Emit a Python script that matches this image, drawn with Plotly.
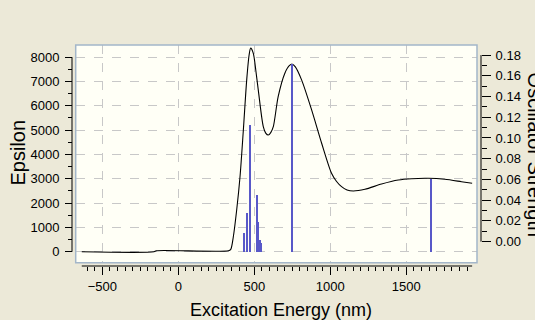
import plotly.graph_objects as go
import numpy as np

# ---- data ----
curve_nm = [-635, -160, -145, 330, 345, 362, 384, 406, 428, 450, 466, 476, 493, 510, 526,
            559, 575, 592, 608, 625, 657, 701, 730, 750, 770, 811, 877, 943, 1008, 1040,
            1074, 1110, 1151, 1228, 1337, 1447, 1535, 1644, 1753, 1863, 1933]
curve_eps = [0, 0, 40, 40, 100, 617, 1716, 3086, 5008, 7066, 8100, 8370, 8165, 7450, 6654,
             5144, 4880, 4798, 4900, 5144, 6379, 7342, 7650, 7712, 7600, 7066, 5831, 4461, 3226, 2900,
             2675, 2540, 2498, 2568, 2786, 2951, 3004, 3020, 2979, 2881, 2815]

bar_nm = [434, 450, 471, 517, 526, 535, 544, 750, 1660]
bar_f = [0.0183, 0.0370, 0.1222, 0.0547, 0.0289, 0.0113, 0.0084, 0.1807, 0.0701]

x_major = [-500, 0, 500, 1000, 1500]
x_minor = [v for v in range(-600, 1901, 50) if v % 500 != 0]
y_major = list(range(0, 8001, 1000))
y_minor = list(range(500, 8000, 1000))
y2_major = [round(0.02 * i, 2) for i in range(10)]
y2_minor = [round(0.01 + 0.02 * i, 2) for i in range(9)]

x_range = [-675, 1965]
y_range = [-450, 8500]
y2_range = [-0.0203, 0.1897]

# ---- layout geometry ----
W, H = 535, 320
L, R, T, B = 72, 54, 45, 54
w, h = W - L - R, H - T - B

def px_x(p):
    return (p - L) / w

def px_y(p):
    return (H - B - p) / h

# bars rise from the left-axis zero level, expressed on the right axis
base_y2 = y2_range[0] + (0 - y_range[0]) / (y_range[1] - y_range[0]) * (y2_range[1] - y2_range[0])

tick_font = dict(family="Liberation Sans Narrow, Arial Narrow, Liberation Sans", size=13, color="black")
title_font = dict(family="Liberation Sans, Arial", color="black")

fig = go.Figure()
fig.add_trace(go.Scatter(x=curve_nm, y=curve_eps, mode="lines",
                         line=dict(color="black", width=1.1, shape="spline", smoothing=0.8),
                         hoverinfo="skip", showlegend=False))
fig.add_trace(go.Bar(x=bar_nm, y=bar_f, base=base_y2, yaxis="y2", width=9,
                     marker=dict(color="#5858c8", line=dict(width=0)), showlegend=False))

fig.update_layout(
    width=W, height=H,
    margin=dict(l=L, r=R, t=T, b=B),
    paper_bgcolor="#ece9d8",
    plot_bgcolor="#fffff6",
    bargap=0,
    xaxis=dict(domain=[px_x(75.7), px_x(477)], anchor="free", position=0,
               range=x_range, tickmode="array", tickvals=x_major,
               ticks="outside", ticklen=8, tickcolor="black", tickwidth=1,
               minor=dict(tickmode="array", tickvals=x_minor, ticks="outside", ticklen=4,
                          tickcolor="black", showgrid=False),
               showline=False, zeroline=False,
               showgrid=True, gridcolor="#c8c8c8", griddash="dash", gridwidth=1,
               tickfont=tick_font, ticklabelstandoff=0),
    yaxis=dict(domain=[px_y(262.7), 1], anchor="free", position=0,
               range=y_range, tickmode="array", tickvals=y_major,
               ticks="outside", ticklen=7, tickcolor="black", tickwidth=1,
               minor=dict(tickmode="array", tickvals=y_minor, ticks="outside", ticklen=4,
                          tickcolor="black", showgrid=False),
               showline=False, zeroline=False,
               showgrid=True, gridcolor="#c8c8c8", griddash="dash", gridwidth=1,
               tickfont=tick_font, ticklabelstandoff=3),
    yaxis2=dict(overlaying="y", side="right", anchor="free", position=1,
                range=y2_range, tickmode="array", tickvals=y2_major, tickformat=".2f",
                ticks="outside", ticklen=9, tickcolor="black", tickwidth=1,
                minor=dict(tickmode="array", tickvals=y2_minor, ticks="outside", ticklen=5,
                           tickcolor="black", showgrid=False),
                showline=False, zeroline=False, showgrid=False,
                tickfont=tick_font, ticklabelstandoff=2),
)

# plot box border
fig.add_shape(type="rect", xref="x domain", yref="y domain", x0=0, x1=1, y0=0, y1=1,
              line=dict(color="#a3b6c9", width=1.5), layer="above")
# axis lines spanning the data / tick extent
fig.add_shape(type="line", xref="x", yref="paper", x0=min(curve_nm), x1=max(curve_nm), y0=0, y1=0,
              line=dict(color="black", width=1))
fig.add_shape(type="line", xref="paper", yref="y", x0=0, x1=0, y0=min(y_major), y1=max(y_major),
              line=dict(color="black", width=1))
fig.add_shape(type="line", xref="paper", yref="y2", x0=1, x1=1, y0=min(y2_major), y1=max(y2_major),
              line=dict(color="black", width=1))

# axis titles
fig.add_annotation(text="Excitation Energy (nm)", xref="paper", yref="paper",
                   x=px_x(280.5), y=px_y(309.7), xanchor="center", yanchor="middle",
                   showarrow=False, font=dict(size=18, **title_font))
fig.add_annotation(text="Epsilon", xref="paper", yref="paper",
                   x=px_x(17), y=px_y(152.5), xanchor="center", yanchor="middle", textangle=-90,
                   showarrow=False, font=dict(size=20, **title_font))
fig.add_annotation(text="Oscillator Strength", xref="paper", yref="paper",
                   x=px_x(535), y=px_y(154.6), xanchor="center", yanchor="middle", textangle=90,
                   showarrow=False, font=dict(size=20, **title_font))

fig.write_html("out.html")
